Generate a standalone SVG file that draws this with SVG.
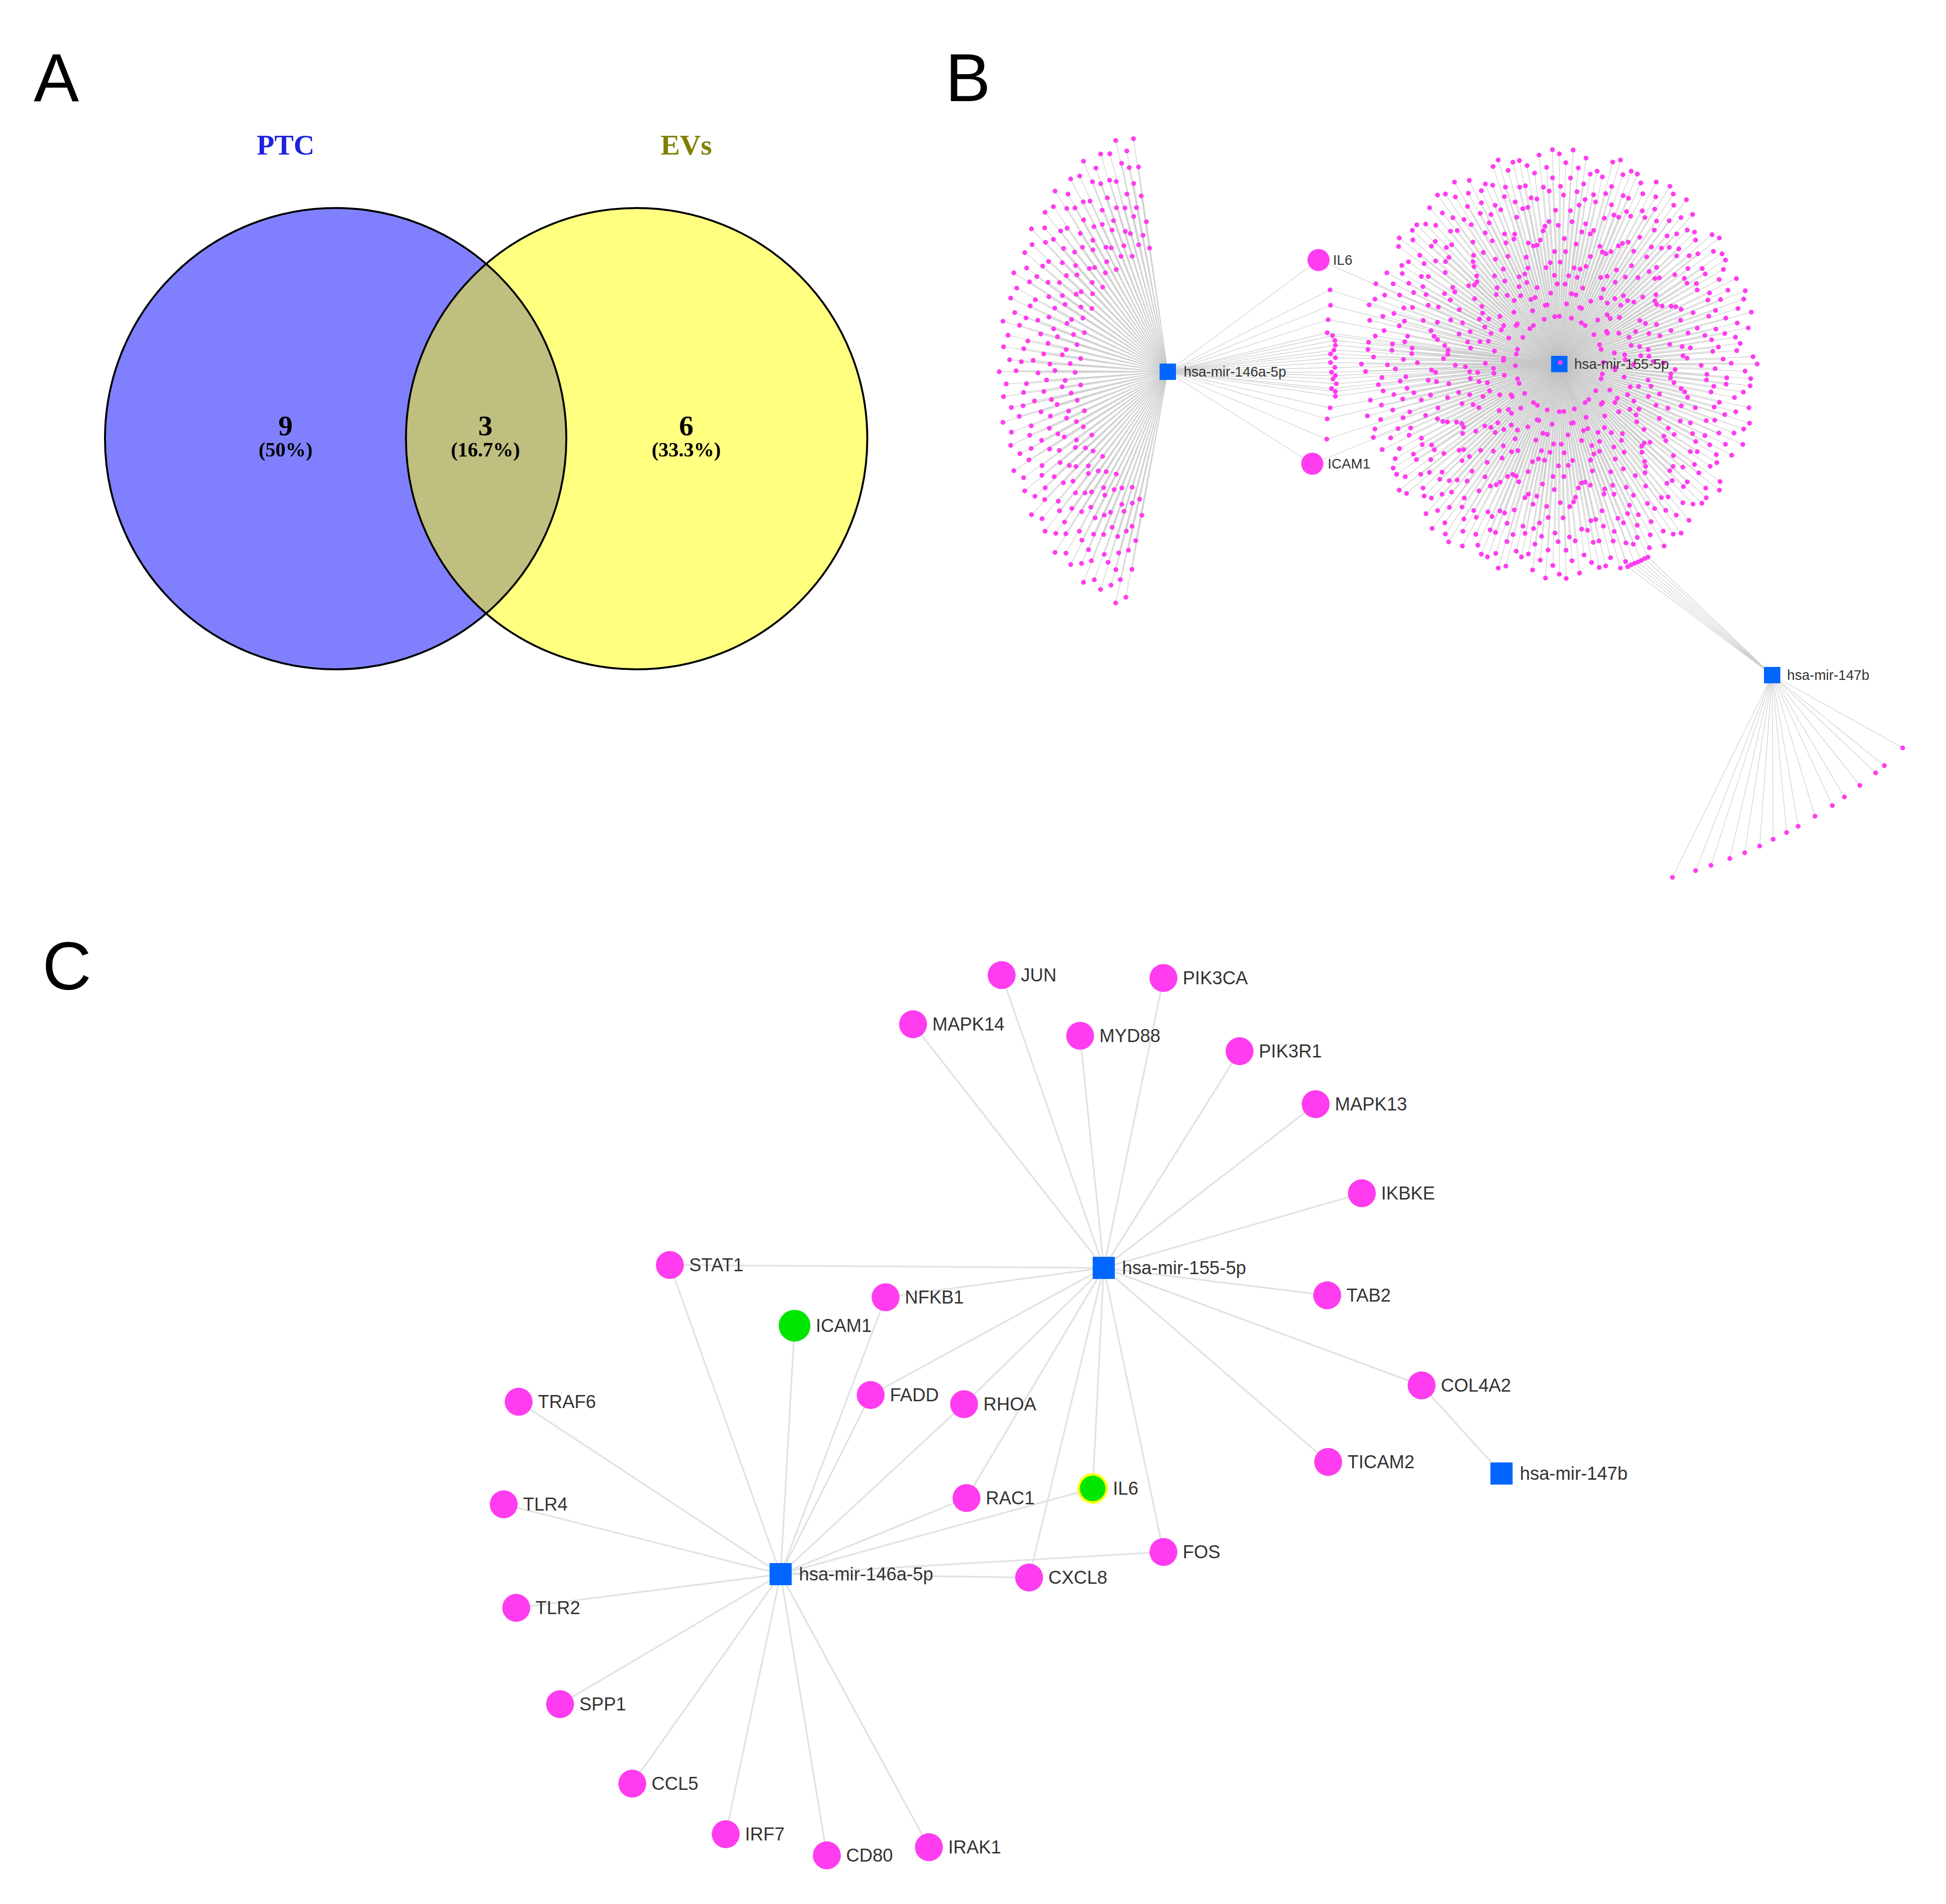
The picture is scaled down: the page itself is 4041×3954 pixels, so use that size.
<svg xmlns="http://www.w3.org/2000/svg" width="4041" height="3954" viewBox="0 0 4041 3954">
<style>
text{font-family:"Liberation Sans",Arial,sans-serif}
.panel{font-size:141px;fill:#000}
.venn{font-family:"Liberation Serif","Times New Roman",serif;font-weight:bold;text-anchor:middle}
.bl{font-size:29px;fill:#333}
.cl{font-size:38px;fill:#333}
.pk{fill:#ff3cf0}
.gr{fill:#00e600}
.sq{fill:#0066ff}
.ce{stroke:#e2e2e2;stroke-width:3.5;fill:none}
.be{stroke:#c4c4c4;stroke-width:1.3;fill:none;stroke-opacity:.8}
.ln{fill:none;stroke:#bcbcbc;stroke-width:1.3;stroke-opacity:.7;vector-effect:non-scaling-stroke}
.dt{fill:none;stroke:#ff3cf0;stroke-width:10;stroke-linecap:round;vector-effect:non-scaling-stroke}
</style>
<defs>
<clipPath id="clipL"><circle cx="697" cy="911" r="479"/></clipPath>
<path id="da" class="dt" vector-effect="non-scaling-stroke" d="M0-97h.01M.6-82h.01M-.5-64h.01M.4-47h.01M0-22h.01"/>
<path id="db" class="dt" vector-effect="non-scaling-stroke" d="M0-93h.01M-.6-78h.01M.5-58h.01"/>
<path id="dc" class="dt" vector-effect="non-scaling-stroke" d="M0-99h.01M-.4-86h.01M.6-71h.01M-.5-52h.01M.3-37h.01"/>
<path id="dd" class="dt" vector-effect="non-scaling-stroke" d="M0-91h.01M.5-80h.01M-.6-66h.01M.4-41h.01"/>
<path id="de" class="dt" vector-effect="non-scaling-stroke" d="M0-96h.01M.5-84h.01M-.4-74h.01M.6-56h.01M-.3-28h.01"/>
<path id="df" class="dt" vector-effect="non-scaling-stroke" d="M0-89h.01M-.5-77h.01M.5-62h.01M-.4-45h.01M.3-33h.01"/>
<path id="la" class="ln" vector-effect="non-scaling-stroke" d="M0 0L0-97M0 0L.6-82M0 0L-.5-64M0 0L.4-47M0 0L0-22"/>
<path id="lb" class="ln" vector-effect="non-scaling-stroke" d="M0 0L0-93M0 0L-.6-78M0 0L.5-58"/>
<path id="lc" class="ln" vector-effect="non-scaling-stroke" d="M0 0L0-99M0 0L-.4-86M0 0L.6-71M0 0L-.5-52M0 0L.3-37"/>
<path id="ld" class="ln" vector-effect="non-scaling-stroke" d="M0 0L0-91M0 0L.5-80M0 0L-.6-66M0 0L.4-41"/>
<path id="le" class="ln" vector-effect="non-scaling-stroke" d="M0 0L0-96M0 0L.5-84M0 0L-.4-74M0 0L.6-56M0 0L-.3-28"/>
<path id="lf" class="ln" vector-effect="non-scaling-stroke" d="M0 0L0-89M0 0L-.5-77M0 0L.5-62M0 0L-.4-45M0 0L.3-33"/>
<g id="sA"><use href="#da"/><use href="#db" transform="rotate(2)"/><use href="#dc" transform="rotate(4)"/><use href="#dd" transform="rotate(6)"/><use href="#de" transform="rotate(8)"/><use href="#df" transform="rotate(10)"/></g>
<g id="sB"><use href="#dd"/><use href="#df" transform="rotate(2)"/><use href="#da" transform="rotate(4)"/><use href="#dc" transform="rotate(6)"/><use href="#db" transform="rotate(8)"/><use href="#de" transform="rotate(10)"/></g>
<g id="sC"><use href="#de"/><use href="#db" transform="rotate(2)"/><use href="#df" transform="rotate(4)"/><use href="#da" transform="rotate(6)"/><use href="#dd" transform="rotate(8)"/><use href="#dc" transform="rotate(10)"/></g>
<g id="tA"><use href="#la"/><use href="#lb" transform="rotate(2)"/><use href="#lc" transform="rotate(4)"/><use href="#ld" transform="rotate(6)"/><use href="#le" transform="rotate(8)"/><use href="#lf" transform="rotate(10)"/></g>
<g id="tB"><use href="#ld"/><use href="#lf" transform="rotate(2)"/><use href="#la" transform="rotate(4)"/><use href="#lc" transform="rotate(6)"/><use href="#lb" transform="rotate(8)"/><use href="#le" transform="rotate(10)"/></g>
<g id="tC"><use href="#le"/><use href="#lb" transform="rotate(2)"/><use href="#lf" transform="rotate(4)"/><use href="#la" transform="rotate(6)"/><use href="#ld" transform="rotate(8)"/><use href="#lc" transform="rotate(10)"/></g>
<path id="fp" class="dt" vector-effect="non-scaling-stroke" d="M0-98h.01M.5-86h.01M-.4-74h.01M.4-63h.01M0-52h.01"/>
<path id="fq" class="dt" vector-effect="non-scaling-stroke" d="M0-94h.01M-.4-87h.01M.5-80h.01M-.5-70h.01M.3-58h.01"/>
<path id="fr" class="dt" vector-effect="non-scaling-stroke" d="M0-100h.01M.4-90h.01M-.5-77h.01M.5-67h.01M-.3-55h.01"/>
<path id="fs" class="dt" vector-effect="non-scaling-stroke" d="M0-96h.01M-.5-84h.01M.4-72h.01M-.4-61h.01"/>
<path id="gp" class="ln" vector-effect="non-scaling-stroke" d="M0 0L0-98M0 0L.5-86M0 0L-.4-74M0 0L.4-63M0 0L0-52"/>
<path id="gq" class="ln" vector-effect="non-scaling-stroke" d="M0 0L0-94M0 0L-.4-87M0 0L.5-80M0 0L-.5-70M0 0L.3-58"/>
<path id="gr" class="ln" vector-effect="non-scaling-stroke" d="M0 0L0-100M0 0L.4-90M0 0L-.5-77M0 0L.5-67M0 0L-.3-55"/>
<path id="gs" class="ln" vector-effect="non-scaling-stroke" d="M0 0L0-96M0 0L-.5-84M0 0L.4-72M0 0L-.4-61"/>
<g id="sF"><use href="#fp"/><use href="#fq" transform="rotate(-3)"/><use href="#fr" transform="rotate(-6)"/><use href="#fs" transform="rotate(-9)"/></g>
<g id="tF"><use href="#gp"/><use href="#gq" transform="rotate(-3)"/><use href="#gr" transform="rotate(-6)"/><use href="#gs" transform="rotate(-9)"/></g>
</defs>
<rect width="4041" height="3954" fill="#fff"/>

<text class="panel" x="70" y="210">A</text>
<text class="panel" x="1963" y="210">B</text>
<text class="panel" x="88" y="2055">C</text>

<g id="venn">
<circle cx="697" cy="911" r="479" fill="#8080ff"/>
<circle cx="1322" cy="911" r="479" fill="#ffff80"/>
<circle cx="1322" cy="911" r="479" fill="#bfbf80" clip-path="url(#clipL)"/>
<circle cx="697" cy="911" r="479" fill="none" stroke="#000" stroke-width="4"/>
<circle cx="1322" cy="911" r="479" fill="none" stroke="#000" stroke-width="4"/>
<text class="venn" x="593" y="321" font-size="60" fill="#2020e0">PTC</text>
<text class="venn" x="1425" y="321" font-size="60" fill="#808000">EVs</text>
<text class="venn" x="593" y="904" font-size="60" fill="#000">9</text>
<text class="venn" x="593" y="948" font-size="42" fill="#000">(50%)</text>
<text class="venn" x="1008" y="904" font-size="60" fill="#000">3</text>
<text class="venn" x="1008" y="948" font-size="42" fill="#000">(16.7%)</text>
<text class="venn" x="1425" y="904" font-size="60" fill="#000">6</text>
<text class="venn" x="1425" y="948" font-size="42" fill="#000">(33.3%)</text>
</g>

<g id="b-edges">
<g transform="translate(3238,756) scale(4.15,4.5)">
<use href="#tA"/><use href="#tB" transform="rotate(12)"/><use href="#tC" transform="rotate(24)"/><use href="#tA" transform="rotate(36)"/><use href="#tB" transform="rotate(48)"/><use href="#tC" transform="rotate(60)"/><use href="#tA" transform="rotate(72)"/><use href="#tB" transform="rotate(84)"/><use href="#tC" transform="rotate(96)"/><use href="#tA" transform="rotate(108)"/><use href="#tB" transform="rotate(120)"/><use href="#tC" transform="rotate(132)"/><use href="#tA" transform="rotate(144)"/><use href="#tB" transform="rotate(156)"/><use href="#tC" transform="rotate(168)"/><use href="#tA" transform="rotate(180)"/><use href="#tB" transform="rotate(192)"/><use href="#tC" transform="rotate(204)"/><use href="#tA" transform="rotate(216)"/><use href="#tB" transform="rotate(228)"/><use href="#tC" transform="rotate(240)"/><use href="#tA" transform="rotate(252)"/><use href="#tB" transform="rotate(264)"/><use href="#tC" transform="rotate(276)"/><use href="#tA" transform="rotate(288)"/><use href="#tB" transform="rotate(300)"/><use href="#tC" transform="rotate(312)"/><use href="#tA" transform="rotate(324)"/><use href="#tB" transform="rotate(336)"/><use href="#tC" transform="rotate(348)"/>
</g>
<g transform="translate(2425,772) scale(3.5,5.05)">
<use href="#tF" transform="rotate(-12)"/><use href="#tF" transform="rotate(-24)"/><use href="#tF" transform="rotate(-36)"/><use href="#tF" transform="rotate(-48)"/><use href="#tF" transform="rotate(-60)"/><use href="#tF" transform="rotate(-72)"/><use href="#tF" transform="rotate(-84)"/><use href="#tF" transform="rotate(-96)"/><use href="#tF" transform="rotate(-108)"/><use href="#tF" transform="rotate(-120)"/><use href="#tF" transform="rotate(-132)"/><use href="#tF" transform="rotate(-144)"/><use href="#tF" transform="rotate(-156)"/>
</g>
<path class="be" d="M2425 772L2738 540M2425 772L2725 963M3238 756L2738 540M3238 756L2725 963
M2425 772L2762 602M2425 772L2763 634M2425 772L2758 664M2425 772L2756 691M2425 772L2767 697M2425 772L2772 707M2425 772L2773 717M2425 772L2770 727M2425 772L2763 735M2425 772L2773 743M2425 772L2763 753M2425 772L2772 763M2425 772L2765 773M2425 772L2773 780M2425 772L2768 787M2425 772L2775 797M2425 772L2765 807M2425 772L2773 813M2425 772L2773 823M2425 772L2762 847M2425 772L2756 870M2425 772L2755 912
M3238 756L2762 602M3238 756L2763 634M3238 756L2758 664M3238 756L2756 691M3238 756L2767 697M3238 756L2772 707M3238 756L2773 717M3238 756L2770 727M3238 756L2763 735M3238 756L2773 743M3238 756L2763 753M3238 756L2772 763M3238 756L2765 773M3238 756L2773 780M3238 756L2768 787M3238 756L2775 797M3238 756L2765 807M3238 756L2773 813M3238 756L2773 823M3238 756L2762 847M3238 756L2756 870M3238 756L2755 912
M3680 1402L3951 1553M3680 1402L3913 1590M3680 1402L3895 1605M3680 1402L3862 1631M3680 1402L3830 1655M3680 1402L3805 1673M3680 1402L3769 1695M3680 1402L3734 1716M3680 1402L3710 1729M3680 1402L3682 1743M3680 1402L3654 1757M3680 1402L3623 1771M3680 1402L3592 1783M3680 1402L3553 1797M3680 1402L3521 1808M3680 1402L3473 1822
M3680 1402L3380 1177M3680 1402L3387 1173M3680 1402L3394 1170M3680 1402L3401 1167M3680 1402L3408 1164M3680 1402L3415 1160M3680 1402L3422 1157
M3238 756L3380 1177M3238 756L3394 1170M3238 756L3408 1164M3238 756L3422 1157"/>
</g>

<g id="b-dots">
<g transform="translate(3238,756) scale(4.15,4.5)">
<use href="#sA"/><use href="#sB" transform="rotate(12)"/><use href="#sC" transform="rotate(24)"/><use href="#sA" transform="rotate(36)"/><use href="#sB" transform="rotate(48)"/><use href="#sC" transform="rotate(60)"/><use href="#sA" transform="rotate(72)"/><use href="#sB" transform="rotate(84)"/><use href="#sC" transform="rotate(96)"/><use href="#sA" transform="rotate(108)"/><use href="#sB" transform="rotate(120)"/><use href="#sC" transform="rotate(132)"/><use href="#sA" transform="rotate(144)"/><use href="#sB" transform="rotate(156)"/><use href="#sC" transform="rotate(168)"/><use href="#sA" transform="rotate(180)"/><use href="#sB" transform="rotate(192)"/><use href="#sC" transform="rotate(204)"/><use href="#sA" transform="rotate(216)"/><use href="#sB" transform="rotate(228)"/><use href="#sC" transform="rotate(240)"/><use href="#sA" transform="rotate(252)"/><use href="#sB" transform="rotate(264)"/><use href="#sC" transform="rotate(276)"/><use href="#sA" transform="rotate(288)"/><use href="#sB" transform="rotate(300)"/><use href="#sC" transform="rotate(312)"/><use href="#sA" transform="rotate(324)"/><use href="#sB" transform="rotate(336)"/><use href="#sC" transform="rotate(348)"/>
</g>
<g transform="translate(2425,772) scale(3.5,5.05)">
<use href="#sF" transform="rotate(-12)"/><use href="#sF" transform="rotate(-24)"/><use href="#sF" transform="rotate(-36)"/><use href="#sF" transform="rotate(-48)"/><use href="#sF" transform="rotate(-60)"/><use href="#sF" transform="rotate(-72)"/><use href="#sF" transform="rotate(-84)"/><use href="#sF" transform="rotate(-96)"/><use href="#sF" transform="rotate(-108)"/><use href="#sF" transform="rotate(-120)"/><use href="#sF" transform="rotate(-132)"/><use href="#sF" transform="rotate(-144)"/><use href="#sF" transform="rotate(-156)"/>
</g>
<path class="dt" d="M2762 602h.01M2763 634h.01M2758 664h.01M2756 691h.01M2767 697h.01M2772 707h.01M2773 717h.01M2770 727h.01M2763 735h.01M2773 743h.01M2763 753h.01M2772 763h.01M2765 773h.01M2773 780h.01M2768 787h.01M2775 797h.01M2765 807h.01M2773 813h.01M2773 823h.01M2762 847h.01M2756 870h.01M2755 912h.01
M3951 1553h.01M3913 1590h.01M3895 1605h.01M3862 1631h.01M3830 1655h.01M3805 1673h.01M3769 1695h.01M3734 1716h.01M3710 1729h.01M3682 1743h.01M3654 1757h.01M3623 1771h.01M3592 1783h.01M3553 1797h.01M3521 1808h.01M3473 1822h.01
M3380 1177h.01M3387 1173h.01M3394 1170h.01M3401 1167h.01M3408 1164h.01M3415 1160h.01M3422 1157h.01"/>
</g>

<g id="b-il6"><circle class="pk" cx="2738" cy="540" r="23"/><text class="bl" x="2768" y="550">IL6</text></g>
<g id="b-icam1"><circle class="pk" cx="2725" cy="963" r="23"/><text class="bl" x="2757" y="973">ICAM1</text></g>
<g id="b-mir146a"><rect class="sq" x="2408" y="755" width="34" height="34"/><text class="bl" x="2458" y="782">hsa-mir-146a-5p</text></g>
<g id="b-mir155"><rect class="sq" x="3221" y="739" width="34" height="34"/><circle class="pk" cx="3240" cy="753" r="5"/><text class="bl" x="3269" y="766">hsa-mir-155-5p</text></g>
<g id="b-mir147b"><rect class="sq" x="3663" y="1385" width="34" height="34"/><text class="bl" x="3711" y="1412">hsa-mir-147b</text></g>

<g id="panelC" transform="translate(-8,-7)">
<g id="c-edges" class="ce">
<line x1="2300" y1="2640" x2="2088" y2="2032"/>
<line x1="2300" y1="2640" x2="2424" y2="2038"/>
<line x1="2300" y1="2640" x2="1904" y2="2134"/>
<line x1="2300" y1="2640" x2="2251" y2="2158"/>
<line x1="2300" y1="2640" x2="2582" y2="2190"/>
<line x1="2300" y1="2640" x2="2740" y2="2300"/>
<line x1="2300" y1="2640" x2="2836" y2="2485"/>
<line x1="2300" y1="2640" x2="1399" y2="2634"/>
<line x1="2300" y1="2640" x2="2764" y2="2697"/>
<line x1="2300" y1="2640" x2="1847" y2="2701"/>
<line x1="2300" y1="2640" x2="2960" y2="2884"/>
<line x1="2300" y1="2640" x2="2766" y2="3043"/>
<line x1="2300" y1="2640" x2="1816" y2="2904"/>
<line x1="2300" y1="2640" x2="2010" y2="2923"/>
<line x1="2300" y1="2640" x2="2015" y2="3118"/>
<line x1="2300" y1="2640" x2="2277" y2="3098"/>
<line x1="2300" y1="2640" x2="2145" y2="3283"/>
<line x1="2300" y1="2640" x2="2424" y2="3230"/>
<line x1="1629" y1="3276" x2="1399" y2="2634"/>
<line x1="1629" y1="3276" x2="1658" y2="2760"/>
<line x1="1629" y1="3276" x2="1847" y2="2701"/>
<line x1="1629" y1="3276" x2="1816" y2="2904"/>
<line x1="1629" y1="3276" x2="2010" y2="2923"/>
<line x1="1629" y1="3276" x2="2015" y2="3118"/>
<line x1="1629" y1="3276" x2="2277" y2="3098"/>
<line x1="1629" y1="3276" x2="2424" y2="3230"/>
<line x1="1629" y1="3276" x2="2145" y2="3283"/>
<line x1="1629" y1="3276" x2="1085" y2="2918"/>
<line x1="1629" y1="3276" x2="1054" y2="3131"/>
<line x1="1629" y1="3276" x2="1080" y2="3346"/>
<line x1="1629" y1="3276" x2="1171" y2="3546"/>
<line x1="1629" y1="3276" x2="1321" y2="3711"/>
<line x1="1629" y1="3276" x2="1515" y2="3816"/>
<line x1="1629" y1="3276" x2="1725" y2="3860"/>
<line x1="1629" y1="3276" x2="1937" y2="3843"/>
<line x1="3126" y1="3067" x2="2960" y2="2884"/>
</g>

<g id="c-JUN"><circle class="pk" cx="2088" cy="2032" r="29"/><text class="cl" x="2128" y="2045">JUN</text></g>
<g id="c-PIK3CA"><circle class="pk" cx="2424" cy="2038" r="29"/><text class="cl" x="2464" y="2051">PIK3CA</text></g>
<g id="c-MAPK14"><circle class="pk" cx="1904" cy="2134" r="29"/><text class="cl" x="1944" y="2147">MAPK14</text></g>
<g id="c-MYD88"><circle class="pk" cx="2251" cy="2158" r="29"/><text class="cl" x="2291" y="2171">MYD88</text></g>
<g id="c-PIK3R1"><circle class="pk" cx="2582" cy="2190" r="29"/><text class="cl" x="2622" y="2203">PIK3R1</text></g>
<g id="c-MAPK13"><circle class="pk" cx="2740" cy="2300" r="29"/><text class="cl" x="2780" y="2313">MAPK13</text></g>
<g id="c-IKBKE"><circle class="pk" cx="2836" cy="2485" r="29"/><text class="cl" x="2876" y="2498">IKBKE</text></g>
<g id="c-STAT1"><circle class="pk" cx="1399" cy="2634" r="29"/><text class="cl" x="1439" y="2647">STAT1</text></g>
<g id="c-TAB2"><circle class="pk" cx="2764" cy="2697" r="29"/><text class="cl" x="2804" y="2710">TAB2</text></g>
<g id="c-NFKB1"><circle class="pk" cx="1847" cy="2701" r="29"/><text class="cl" x="1887" y="2714">NFKB1</text></g>
<g id="c-ICAM1"><circle class="gr" cx="1658" cy="2760" r="33"/><text class="cl" x="1702" y="2773">ICAM1</text></g>
<g id="c-COL4A2"><circle class="pk" cx="2960" cy="2884" r="29"/><text class="cl" x="3000" y="2897">COL4A2</text></g>
<g id="c-FADD"><circle class="pk" cx="1816" cy="2904" r="29"/><text class="cl" x="1856" y="2917">FADD</text></g>
<g id="c-TRAF6"><circle class="pk" cx="1085" cy="2918" r="29"/><text class="cl" x="1125" y="2931">TRAF6</text></g>
<g id="c-RHOA"><circle class="pk" cx="2010" cy="2923" r="29"/><text class="cl" x="2050" y="2936">RHOA</text></g>
<g id="c-TICAM2"><circle class="pk" cx="2766" cy="3043" r="29"/><text class="cl" x="2806" y="3056">TICAM2</text></g>
<g id="c-IL6"><circle class="gr" cx="2277" cy="3098" r="29" stroke="#ffff00" stroke-width="5"/><text class="cl" x="2319" y="3111">IL6</text></g>
<g id="c-RAC1"><circle class="pk" cx="2015" cy="3118" r="29"/><text class="cl" x="2055" y="3131">RAC1</text></g>
<g id="c-TLR4"><circle class="pk" cx="1054" cy="3131" r="29"/><text class="cl" x="1094" y="3144">TLR4</text></g>
<g id="c-FOS"><circle class="pk" cx="2424" cy="3230" r="29"/><text class="cl" x="2464" y="3243">FOS</text></g>
<g id="c-CXCL8"><circle class="pk" cx="2145" cy="3283" r="29"/><text class="cl" x="2185" y="3296">CXCL8</text></g>
<g id="c-TLR2"><circle class="pk" cx="1080" cy="3346" r="29"/><text class="cl" x="1120" y="3359">TLR2</text></g>
<g id="c-SPP1"><circle class="pk" cx="1171" cy="3546" r="29"/><text class="cl" x="1211" y="3559">SPP1</text></g>
<g id="c-CCL5"><circle class="pk" cx="1321" cy="3711" r="29"/><text class="cl" x="1361" y="3724">CCL5</text></g>
<g id="c-IRF7"><circle class="pk" cx="1515" cy="3816" r="29"/><text class="cl" x="1555" y="3829">IRF7</text></g>
<g id="c-CD80"><circle class="pk" cx="1725" cy="3860" r="29"/><text class="cl" x="1765" y="3873">CD80</text></g>
<g id="c-IRAK1"><circle class="pk" cx="1937" cy="3843" r="29"/><text class="cl" x="1977" y="3856">IRAK1</text></g>
<g id="c-mir155"><rect class="sq" x="2277" y="2617" width="46" height="46"/><text class="cl" x="2338" y="2653">hsa-mir-155-5p</text></g>
<g id="c-mir146a"><rect class="sq" x="1606" y="3253" width="46" height="46"/><text class="cl" x="1667" y="3289">hsa-mir-146a-5p</text></g>
<g id="c-mir147b"><rect class="sq" x="3103" y="3044" width="46" height="46"/><text class="cl" x="3164" y="3080">hsa-mir-147b</text></g>
</g>
</svg>
